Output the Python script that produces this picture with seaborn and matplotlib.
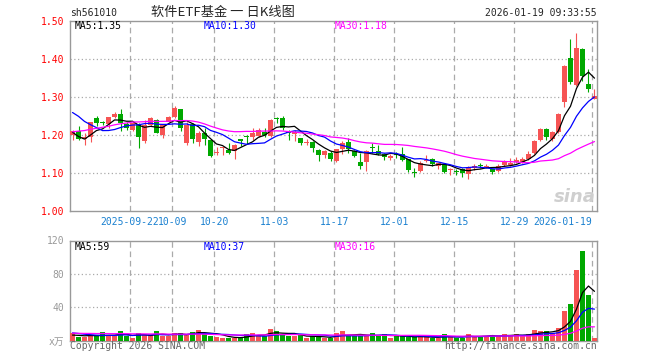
import numpy as np
import pandas as pd
import matplotlib
matplotlib.use("Agg")
import matplotlib.pyplot as plt
import seaborn as sns

# daily candles 2025-09-08 .. 2026-01-19
opens = [1.202, 1.211, 1.189, 1.196, 1.245, 1.234, 1.230, 1.249, 1.256, 1.230,
         1.214, 1.230, 1.186, 1.227, 1.240, 1.201, 1.236, 1.247, 1.269, 1.179,
         1.230, 1.183, 1.207, 1.187, 1.153, 1.166, 1.161, 1.160, 1.190, 1.197,
         1.196, 1.199, 1.210, 1.198, 1.246, 1.245, 1.212, 1.203, 1.192, 1.181,
         1.183, 1.161, 1.148, 1.153, 1.133, 1.165, 1.182, 1.160, 1.131, 1.131,
         1.168, 1.158, 1.152, 1.141, 1.150, 1.151, 1.137, 1.104, 1.106, 1.133,
         1.138, 1.119, 1.124, 1.109, 1.105, 1.111, 1.098, 1.113, 1.121, 1.117,
         1.111, 1.106, 1.121, 1.122, 1.131, 1.131, 1.138, 1.154, 1.188, 1.217,
         1.190, 1.209, 1.288, 1.403, 1.332, 1.427, 1.335, 1.296]
highs = [1.213, 1.224, 1.205, 1.236, 1.252, 1.237, 1.249, 1.262, 1.269, 1.236,
         1.236, 1.232, 1.240, 1.249, 1.242, 1.229, 1.250, 1.276, 1.270, 1.236,
         1.232, 1.212, 1.218, 1.188, 1.170, 1.170, 1.180, 1.177, 1.191, 1.200,
         1.218, 1.220, 1.218, 1.242, 1.249, 1.250, 1.215, 1.213, 1.194, 1.190,
         1.186, 1.163, 1.161, 1.158, 1.165, 1.184, 1.192, 1.162, 1.153, 1.161,
         1.179, 1.175, 1.154, 1.150, 1.156, 1.168, 1.138, 1.113, 1.133, 1.148,
         1.141, 1.127, 1.125, 1.114, 1.110, 1.114, 1.118, 1.125, 1.126, 1.124,
         1.111, 1.124, 1.135, 1.139, 1.144, 1.142, 1.160, 1.188, 1.219, 1.218,
         1.210, 1.258, 1.384, 1.453, 1.470, 1.430, 1.374, 1.322]
lows = [1.188, 1.187, 1.174, 1.183, 1.225, 1.226, 1.218, 1.245, 1.212, 1.214,
        1.212, 1.166, 1.179, 1.225, 1.205, 1.192, 1.234, 1.245, 1.210, 1.174,
        1.179, 1.172, 1.174, 1.144, 1.148, 1.148, 1.151, 1.137, 1.172, 1.176,
        1.188, 1.196, 1.196, 1.195, 1.232, 1.214, 1.188, 1.186, 1.174, 1.174,
        1.157, 1.133, 1.140, 1.133, 1.130, 1.150, 1.153, 1.142, 1.111, 1.106,
        1.154, 1.149, 1.135, 1.136, 1.140, 1.133, 1.104, 1.091, 1.103, 1.130,
        1.120, 1.112, 1.102, 1.096, 1.096, 1.089, 1.086, 1.108, 1.113, 1.113,
        1.097, 1.104, 1.118, 1.120, 1.127, 1.128, 1.134, 1.151, 1.184, 1.188,
        1.185, 1.206, 1.274, 1.335, 1.330, 1.342, 1.313, 1.296]
closes = [1.211, 1.189, 1.196, 1.234, 1.233, 1.232, 1.247, 1.256, 1.232, 1.218,
          1.232, 1.196, 1.227, 1.245, 1.207, 1.227, 1.247, 1.271, 1.220, 1.227,
          1.189, 1.205, 1.189, 1.146, 1.157, 1.168, 1.154, 1.175, 1.185, 1.195,
          1.205, 1.214, 1.201, 1.240, 1.244, 1.218, 1.207, 1.209, 1.179, 1.183,
          1.166, 1.148, 1.159, 1.137, 1.164, 1.181, 1.163, 1.146, 1.120, 1.159,
          1.166, 1.151, 1.142, 1.146, 1.148, 1.135, 1.109, 1.102, 1.128, 1.136,
          1.125, 1.126, 1.104, 1.111, 1.103, 1.100, 1.116, 1.118, 1.119, 1.120,
          1.103, 1.119, 1.131, 1.128, 1.135, 1.137, 1.151, 1.185, 1.217, 1.195,
          1.208, 1.256, 1.382, 1.341, 1.429, 1.356, 1.323, 1.303]
# volume in 万手
volumes = [9.6, 4.4, 4.4, 6.4, 5.6, 10.0, 5.6, 5.6, 11.6, 5.6,
           3.2, 9.2, 6.4, 6.4, 11.6, 5.6, 5.6, 9.2, 9.2, 7.2,
           10.0, 12.8, 9.2, 5.6, 4.4, 3.2, 3.2, 3.6, 4.0, 8.0,
           9.2, 7.2, 5.6, 14.0, 11.6, 6.8, 5.6, 5.6, 6.4, 3.2,
           5.6, 4.4, 3.6, 3.6, 9.2, 11.6, 5.6, 5.6, 5.6, 5.6,
           9.2, 5.6, 7.6, 3.2, 5.6, 5.6, 4.4, 4.4, 4.4, 4.4,
           3.6, 3.6, 8.0, 4.4, 3.6, 3.6, 8.0, 5.6, 4.8, 5.6,
           6.8, 5.6, 8.0, 5.6, 8.0, 5.6, 8.0, 12.8, 11.6, 11.6,
           9.2, 15.2, 35.0, 44.5, 85.0, 108.0, 54.8, 3.2]

# sessions before the first visible day, only used to start the moving averages
prior_closes = [1.14, 1.15, 1.13, 1.16, 1.15, 1.17, 1.14, 1.15, 1.16, 1.15,
                1.19, 1.21, 1.20, 1.23, 1.22, 1.24, 1.21, 1.23, 1.22, 1.23,
                1.29, 1.33, 1.32, 1.31, 1.31, 1.245, 1.230, 1.180, 1.174]
prior_volumes = [8, 9, 7, 10, 8, 9, 8, 7, 9, 10,
                 8, 9, 10, 8, 9, 11, 10, 9, 8, 9,
                 12, 13, 12, 11, 12, 6, 7, 5, 6]

date_idx = [10, 17, 24, 34, 44, 54, 64, 74, 87]
date_labels = ["2025-09-22", "10-09", "10-20", "11-03", "11-17",
               "12-01", "12-15", "12-29", "2026-01-19"]

UP, DOWN = "#f65454", "#00a800"
GRID = "#aaaaaa"
MA_COLORS = {5: "black", 10: "blue", 30: "#ff00ff"}

sns.set_theme(style="white")
plt.rcParams["font.family"] = ["DejaVu Sans Mono", "Noto Sans CJK SC"]

o, h, l, c = (np.array(a) for a in (opens, highs, lows, closes))
v = np.array(volumes)
x = np.arange(len(c))
cols = np.where(c >= o, UP, DOWN)

n0 = len(prior_closes)
price_ma = {k: pd.Series(prior_closes + closes).rolling(k).mean().to_numpy()[n0:]
            for k in (5, 10, 30)}
vol_ma = {k: pd.Series(prior_volumes + volumes).rolling(k).mean().to_numpy()[n0:]
          for k in (5, 10, 30)}

W, H = 660, 360
fig = plt.figure(figsize=(W / 100, H / 100), dpi=100)


def box(left, top, right, bottom):
    return [left / W, 1 - bottom / H, (right - left) / W, (bottom - top) / H]


ax = fig.add_axes(box(70, 21.3, 597, 211.3))
axv = fig.add_axes(box(70, 240.5, 597, 340.7))

# candles
body = np.maximum(np.abs(c - o), 0.0025)
bottom = np.minimum(o, c) - (body - np.abs(c - o)) / 2
ax.vlines(x, l, h, colors=cols, linewidth=0.8, zorder=2)
ax.bar(x, body, bottom=bottom, width=0.8, color=cols, linewidth=0, zorder=3)
for k, col in MA_COLORS.items():
    sns.lineplot(x=x, y=price_ma[k], ax=ax, color=col, linewidth=0.9, zorder=4)

# volume
axv.bar(x, v, width=0.8, color=cols, linewidth=0, zorder=3)
for k, col in MA_COLORS.items():
    sns.lineplot(x=x, y=vol_ma[k], ax=axv, color=col, linewidth=0.9, zorder=4)

for a in (ax, axv):
    a.set_xlim(-0.42, 87.42)
    for i in date_idx:
        a.axvline(i - 0.4, color=GRID, lw=0.9, ls=(0, (4.5, 3)), zorder=0)
    for s in a.spines.values():
        s.set_color("#999999")
        s.set_linewidth(1)
    a.set_ylabel("")

ax.set_ylim(1.0, 1.5)
for yv in (1.1, 1.2, 1.3, 1.4):
    ax.axhline(yv, color=GRID, lw=0.9, ls=(0, (1, 2)), zorder=0)
ax.set_yticks([1.0, 1.1, 1.2, 1.3, 1.4, 1.5])
ax.set_yticklabels([f"{t:.2f}" for t in ax.get_yticks()])
ax.tick_params(axis="y", length=0, pad=4, labelcolor="red", labelsize=7)
ax.set_xticks([i - 0.4 for i in date_idx])
ax.set_xticklabels(date_labels)
ax.tick_params(axis="x", length=0, pad=4, labelcolor="#1a80d0", labelsize=7)
ax.get_xticklabels()[-1].set_ha("right")

axv.set_ylim(0, 120)
for yv in (40, 80):
    axv.axhline(yv, color=GRID, lw=0.9, ls=(0, (1, 2)), zorder=0)
axv.set_yticks([0, 40, 80, 120])
axv.set_yticklabels(["x万", "40", "80", "120"])
axv.tick_params(axis="y", length=0, pad=4, labelcolor="#999999", labelsize=7)
axv.set_xticks([])


def txt(px, py, s, **kw):
    kw.setdefault("size", 7)
    kw.setdefault("va", "center")
    fig.text(px / W, 1 - py / H, s, **kw)


txt(70, 13, "sh561010")
txt(223, 12.5, "软件ETF基金 一 日K线图", ha="center", size=9.5,
    family=["Noto Sans CJK SC", "DejaVu Sans"])
txt(597, 13, "2026-01-19 09:33:55", ha="right")

txt(75, 26, f"MA5:{price_ma[5][-1]:.2f}", color="black")
txt(204, 26, f"MA10:{price_ma[10][-1]:.2f}", color="blue")
txt(334.7, 26, f"MA30:{price_ma[30][-1]:.2f}", color="#ff00ff")
txt(75, 246.5, f"MA5:{int(vol_ma[5][-1])}", color="black")
txt(204, 246.5, f"MA10:{int(vol_ma[10][-1])}", color="blue")
txt(334.7, 246.5, f"MA30:{int(vol_ma[30][-1])}", color="#ff00ff")

txt(70, 346, "Copyright 2026 SINA.COM", color="#666666")
txt(597, 346, "http://finance.sina.com.cn", ha="right", color="#666666")
txt(596, 197, "sina", ha="right", size=13, style="italic", weight="bold",
    color="#cfcfcf", family="DejaVu Sans")

fig.savefig("out.png", dpi=100)
